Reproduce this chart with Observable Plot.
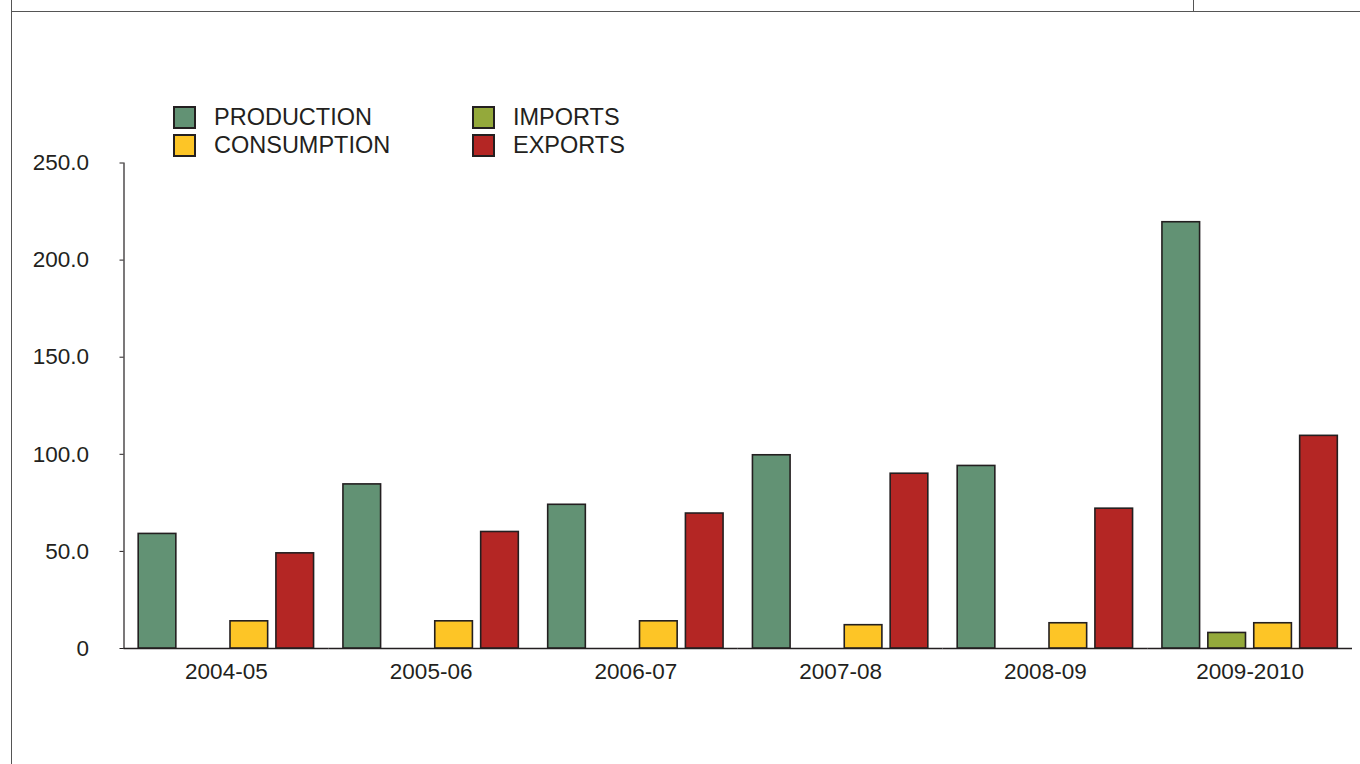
<!DOCTYPE html>
<html>
<head>
<meta charset="utf-8">
<script src="https://cdn.jsdelivr.net/npm/d3@7"></script>
<script src="https://cdn.jsdelivr.net/npm/@observablehq/plot@0.6"></script>
<style>
  html, body { margin: 0; padding: 0; background: #fff; }
  body { width: 1360px; height: 764px; position: relative; overflow: hidden; font-family: "Liberation Sans", Arial, sans-serif; color: #231f20; }
  .rule { position: absolute; background: #555; }
  #chart { position: absolute; left: 0; top: 0; }
  #legend { position: absolute; left: 173px; top: 103px; display: grid; grid-template-columns: 299px auto; grid-template-rows: 28px 28px; grid-auto-flow: column; font-size: 23.5px; }
  .item { display: flex; align-items: center; height: 28px; }
  .sw { width: 23px; height: 23px; box-sizing: border-box; border: 2px solid #231f20; margin-right: 18px; }
</style>
</head>
<body>
<div class="rule" style="left:11px;top:11px;width:1349px;height:1.3px"></div>
<div class="rule" style="left:11px;top:0;width:1.3px;height:764px"></div>
<div class="rule" style="left:1193px;top:0;width:1.3px;height:12px"></div>
<div id="chart"></div>
<div id="legend"></div>
<script>
const years = ["2004-05", "2005-06", "2006-07", "2007-08", "2008-09", "2009-2010"];
const series = ["PRODUCTION", "IMPORTS", "CONSUMPTION", "EXPORTS"];
const colors = ["#629274", "#94a93b", "#fdc526", "#b42624"];
const legendOrder = ["PRODUCTION", "CONSUMPTION", "IMPORTS", "EXPORTS"];
const production = [59, 84.5, 74, 99.5, 94, 219.5];
const imports = [0, 0, 0, 0, 0, 8];
const consumption = [14, 14, 14, 12, 13, 13];
const exportsV = [49, 60, 69.5, 90, 72, 109.5];
const yTicks = [0, 50, 100, 150, 200, 250];

const valuesBySeries = {PRODUCTION: production, IMPORTS: imports, CONSUMPTION: consumption, EXPORTS: exportsV};
const data = [];
years.forEach((year, i) => series.forEach(s => data.push({year, series: s, value: valuesBySeries[s][i]})));

const ink = "#231f20";
const chart = Plot.plot({
  width: 1360,
  height: 764,
  marginTop: 162.5,
  marginBottom: 116,
  marginLeft: 123.5,
  marginRight: 8,
  style: {fontFamily: "'Liberation Sans', Arial, sans-serif", color: ink, background: "transparent"},
  fx: {domain: years, padding: 0, round: false},
  x: {domain: series, paddingInner: 0.18, paddingOuter: 0.32, round: false, axis: null},
  y: {domain: [0, 250]},
  color: {domain: series, range: colors},
  marks: [
    Plot.ruleY([0], {stroke: ink, strokeWidth: 1.3}),
    Plot.frame({anchor: "left", facetAnchor: "left", stroke: ink, strokeWidth: 1.2}),
    Plot.barY(data, {
      filter: d => d.value > 0,
      fx: "year", x: "series", y: "value",
      fill: "series", stroke: ink, strokeWidth: 1.6
    }),
    Plot.axisY({ticks: yTicks, tickSize: 4, tickPadding: 31, fontSize: 22.5, stroke: ink,
      tickFormat: d => d === 0 ? "0" : d.toFixed(1), label: null}),
    Plot.axisFx({anchor: "bottom", tickSize: 0, tickPadding: 15, fontSize: 22.5, label: null})
  ]
});
document.getElementById("chart").appendChild(chart);

const legend = document.getElementById("legend");
legendOrder.forEach(s => {
  const item = document.createElement("div");
  item.className = "item";
  const sw = document.createElement("span");
  sw.className = "sw";
  sw.style.background = colors[series.indexOf(s)];
  const label = document.createElement("span");
  label.textContent = s;
  item.appendChild(sw);
  item.appendChild(label);
  legend.appendChild(item);
});
</script>
</body>
</html>
